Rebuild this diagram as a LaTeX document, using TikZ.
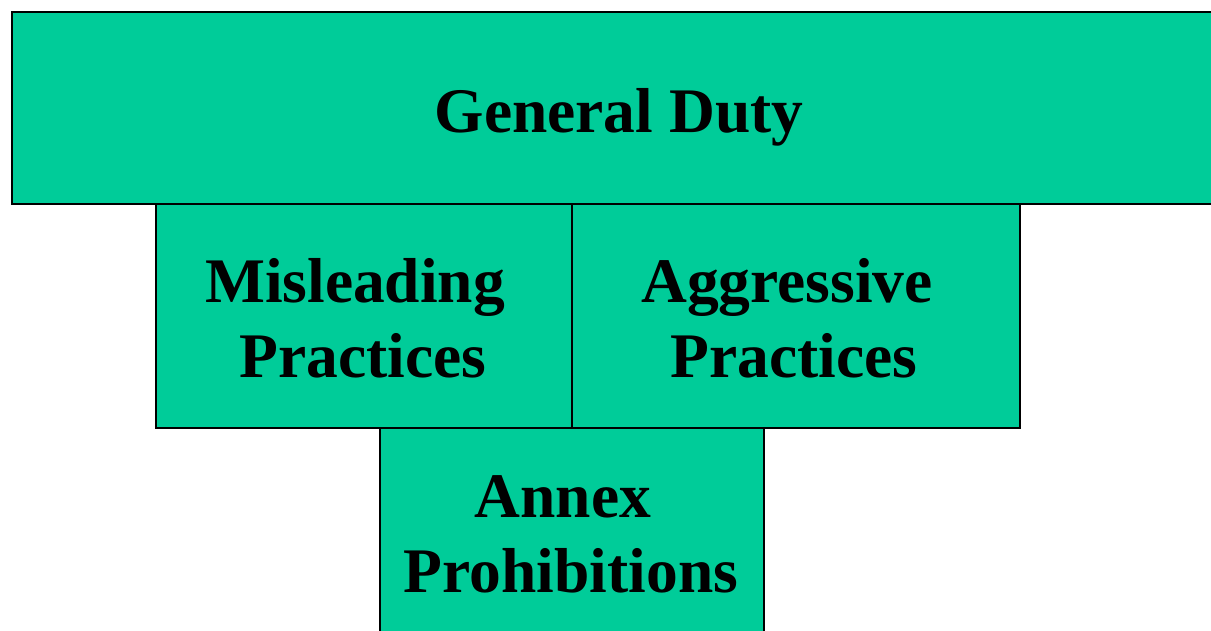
\documentclass[tikz,border=0pt]{standalone}
\usepackage{fontspec}
\setmainfont{Liberation Serif}
\definecolor{boxgreen}{HTML}{00CC99}
\begin{document}
\begin{tikzpicture}[x=1pt,y=-1pt,
  bigfont/.style={font=\fontsize{63.5}{75}\selectfont\bfseries},
  box/.style={draw=black, line width=2pt, fill=boxgreen, rectangle, inner sep=0pt, anchor=north west},
  label/.style={bigfont, anchor=base, inner sep=0pt}]
\useasboundingbox (0,0) rectangle (1211,630);
\clip (0,0) rectangle (1211,630);
\node[box, minimum width=1206pt, minimum height=192pt] (duty) at (11,11) {};
\node[box, minimum width=416pt, minimum height=224pt] (mis) at (155,203) {};
\node[box, minimum width=448pt, minimum height=224pt] (agg) at (571,203) {};
\node[box, minimum width=384pt, minimum height=230pt] (annex) at (379,427) {};
\node[label] (dutyt) at (619,132) {General Duty};
\node[label] (mist1) at (355,302) {Misleading};
\node[label] (mist2) at (363,377) {Practices};
\node[label] (aggt1) at (787,302) {Aggressive};
\node[label] (aggt2) at (794,377) {Practices};
\node[label] (annt1) at (563,517) {Annex};
\node[label] (annt2) at (571,592) {Prohibitions};
\end{tikzpicture}
\end{document}
